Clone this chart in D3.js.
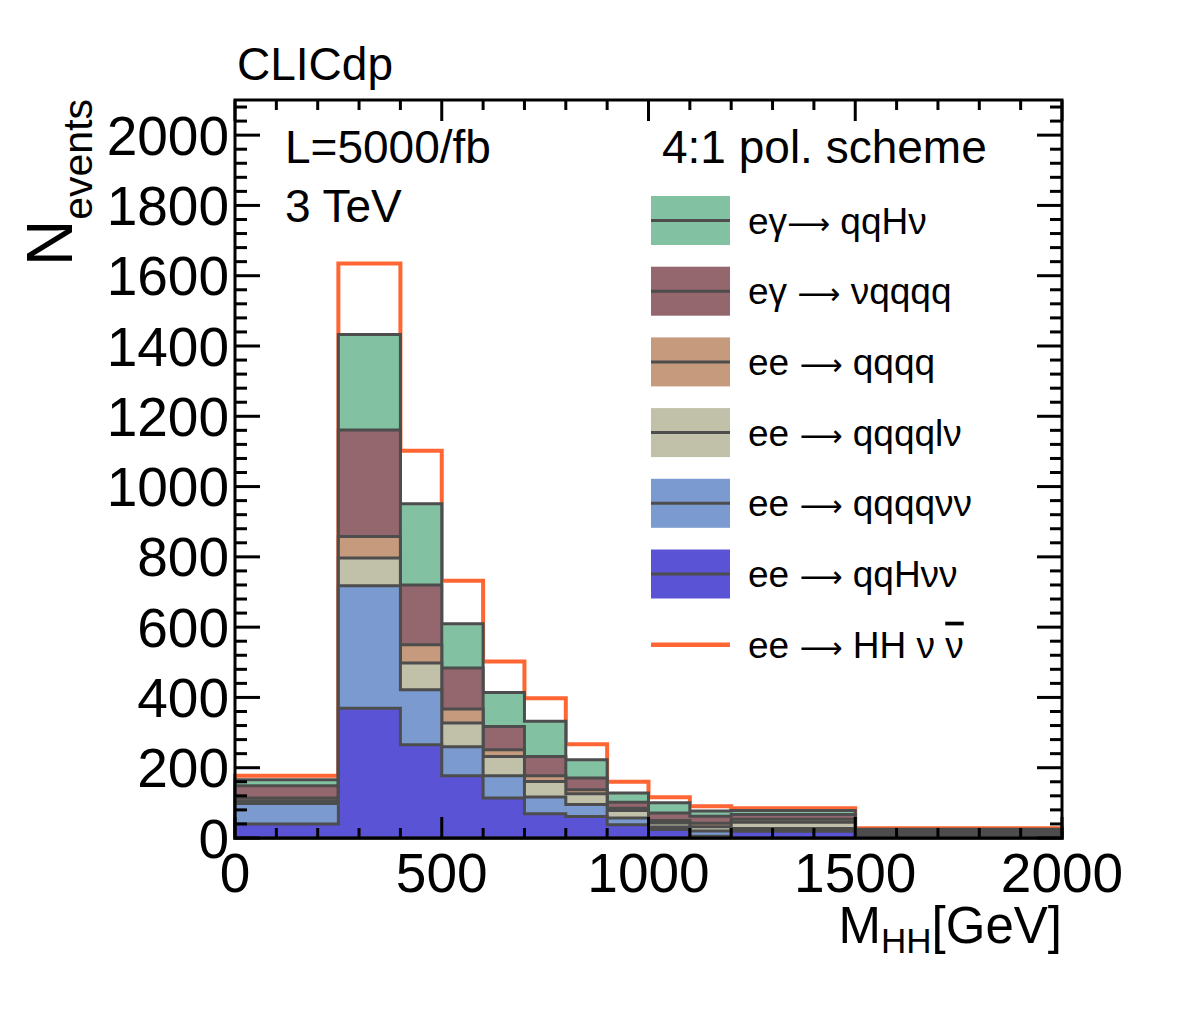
<!DOCTYPE html>
<html>
<head>
<meta charset="utf-8">
<script src="https://cdn.jsdelivr.net/npm/d3@7"></script>
<style>
  html, body { margin: 0; padding: 0; background: #fff; }
  text { font-family: "Liberation Sans", Arial, Helvetica, sans-serif; fill: #000; }
</style>
</head>
<body>
<svg id="chart" width="1182" height="1011"></svg>
<script>
// ---- data ----
const binEdges = [0, 250, 400, 500, 600, 700, 800, 900, 1000, 1100, 1200, 1500, 2000];
// stacked backgrounds, bottom to top
const qqHvv   = [40, 369, 265, 177, 114, 69, 61, 38, 24, 5, 19, 3];
const qqqqvv  = [58, 349, 157, 83, 63, 48, 34, 19, 7, 15, 8, 3];
const qqqqlv  = [8, 79, 76, 67, 55, 44, 31, 21, 12, 12, 18, 5];
const qqqq    = [8, 61, 52, 40, 19, 16, 11, 7, 7, 10, 8, 3];
const vqqqq   = [35, 303, 170, 117, 66, 55, 34, 17, 21, 20, 14, 5];
const qqHv    = [17, 272, 231, 126, 97, 100, 52, 26, 29, 15, 11, 6];
// signal stacked on top (line only)
const signalHH = [11, 202, 151, 122, 88, 66, 44, 32, 16, 13, 7, 3];

const seriesNames = ["qqHvv", "qqqqvv", "qqqqlv", "qqqq", "vqqqq", "qqHv"];
const seriesValues = [qqHvv, qqqqvv, qqqqlv, qqqq, vqqqq, qqHv];
const seriesColors = ["#5a53d6", "#7b9ad0", "#c1c0a8", "#c69a7c", "#94676e", "#83c1a3"];

const xTicks = [0, 500, 1000, 1500, 2000];
const yTicks = [0, 200, 400, 600, 800, 1000, 1200, 1400, 1600, 1800, 2000];

// legend entries (top to bottom): [before arrow, after arrow, barred tail]
const legendEntries = [
  {key: "qqHv",   pre: "eγ",  post: " qqHν",  bar: ""},
  {key: "vqqqq",  pre: "eγ ", post: " νqqqq", bar: ""},
  {key: "qqqq",   pre: "ee ", post: " qqqq",  bar: ""},
  {key: "qqqqlv", pre: "ee ", post: " qqqqlν", bar: ""},
  {key: "qqqqvv", pre: "ee ", post: " qqqqνν", bar: ""},
  {key: "qqHvv",  pre: "ee ", post: " qqHνν",  bar: ""},
  {key: "signal", pre: "ee ", post: " HH ν ",  bar: "ν"}
];

// ---- layout ----
const svg = d3.select("#chart");
const L = 235, R = 1062, T = 100, B = 838;
const x = d3.scaleLinear().domain([0, 2000]).range([L, R]);
const y = d3.scaleLinear().domain([0, 2100]).range([B, T]);

const strokeGray = "#4d4d4d";
const orange = "#ff6633";

// cumulative stacks
const nb = binEdges.length - 1;
const cum = [];
let running = new Array(nb).fill(0);
seriesValues.forEach(v => {
  running = running.map((r, i) => r + v[i]);
  cum.push(running.slice());
});
const totalWithSignal = running.map((r, i) => r + signalHH[i]);

function stepPath(vals) {
  const p = d3.path();
  p.moveTo(x(binEdges[0]), y(0));
  for (let i = 0; i < nb; i++) {
    p.lineTo(x(binEdges[i]), y(vals[i]));
    p.lineTo(x(binEdges[i + 1]), y(vals[i]));
  }
  p.lineTo(x(binEdges[nb]), y(0));
  return p.toString();
}

// signal line (stacked on total)
svg.append("path")
  .attr("d", stepPath(totalWithSignal))
  .attr("fill", "none")
  .attr("stroke", orange)
  .attr("stroke-width", 4);

// stacked histograms drawn from the largest cumulative to the smallest
for (let k = cum.length - 1; k >= 0; k--) {
  svg.append("path")
    .attr("d", stepPath(cum[k]) + "Z")
    .attr("fill", seriesColors[k])
    .attr("stroke", strokeGray)
    .attr("stroke-width", 3)
    .attr("stroke-linejoin", "miter");
}

// ---- frame & ticks ----
const axG = svg.append("g").attr("stroke", "#000").attr("stroke-width", 3);
for (let v = 0; v <= 2100; v += 40) {
  const major = v % 200 === 0;
  const len = major ? 25 : 12;
  axG.append("line").attr("x1", L).attr("x2", L + len).attr("y1", y(v)).attr("y2", y(v));
  axG.append("line").attr("x1", R).attr("x2", R - len).attr("y1", y(v)).attr("y2", y(v));
}
for (let v = 0; v <= 2000; v += 100) {
  const major = v % 500 === 0;
  const len = major ? 21 : 10;
  axG.append("line").attr("x1", x(v)).attr("x2", x(v)).attr("y1", B).attr("y2", B - len);
  axG.append("line").attr("x1", x(v)).attr("x2", x(v)).attr("y1", T).attr("y2", T + len);
}
svg.append("rect").attr("x", L).attr("y", T).attr("width", R - L).attr("height", B - T)
  .attr("fill", "none").attr("stroke", "#000").attr("stroke-width", 3);

// tick labels
svg.append("g").selectAll("text").data(yTicks).join("text")
  .attr("x", 229).attr("y", d => y(d) + 19.5)
  .attr("text-anchor", "end").attr("font-size", 55).text(d => d);
svg.append("g").selectAll("text").data(xTicks).join("text")
  .attr("x", d => x(d)).attr("y", 892)
  .attr("text-anchor", "middle").attr("font-size", 55).text(d => d);

// axis titles
const yt = svg.append("text")
  .attr("transform", "translate(72,266) rotate(-90)")
  .attr("text-anchor", "start");
yt.append("tspan").attr("font-size", 64).text("N");
yt.append("tspan").attr("font-size", 41).attr("dy", 20).text("events");

const xt = svg.append("text").attr("x", R).attr("y", 943).attr("text-anchor", "end");
xt.append("tspan").attr("font-size", 51).text("M");
xt.append("tspan").attr("font-size", 35).attr("dy", 10).text("HH");
xt.append("tspan").attr("font-size", 51).attr("dy", -10).text("[GeV]");

// labels
svg.append("text").attr("x", 237).attr("y", 80).attr("font-size", 46).text("CLICdp");
svg.append("text").attr("x", 285).attr("y", 163).attr("font-size", 46).text("L=5000/fb");
svg.append("text").attr("x", 285).attr("y", 222).attr("font-size", 46).text("3 TeV");
svg.append("text").attr("x", 662).attr("y", 163).attr("font-size", 46).text("4:1 pol. scheme");

// ---- legend ----
const colorByKey = {};
seriesNames.forEach((n, i) => colorByKey[n] = seriesColors[i]);
const rowY0 = 220.5, rowDy = 70.7;
legendEntries.forEach((e, i) => {
  const cy = rowY0 + i * rowDy;
  const g = svg.append("g");
  if (e.key === "signal") {
    g.append("line").attr("x1", 651).attr("x2", 730).attr("y1", cy).attr("y2", cy)
      .attr("stroke", orange).attr("stroke-width", 4.5);
  } else {
    g.append("rect").attr("x", 651).attr("y", cy - 24.5).attr("width", 79).attr("height", 49)
      .attr("fill", colorByKey[e.key]);
    g.append("line").attr("x1", 651).attr("x2", 730).attr("y1", cy).attr("y2", cy)
      .attr("stroke", strokeGray).attr("stroke-width", 3);
  }
  const t = g.append("text").attr("x", 748).attr("y", cy + 13).attr("font-size", 37)
    .attr("xml:space", "preserve").style("white-space", "pre");
  t.append("tspan").text(e.pre);
  t.append("tspan").style("font-family", "'DejaVu Sans'").attr("font-size", 30).text("⟶");
  t.append("tspan").text(e.post);
  if (e.bar) t.append("tspan").style("text-decoration", "overline").text(e.bar);
});
</script>
</body>
</html>
